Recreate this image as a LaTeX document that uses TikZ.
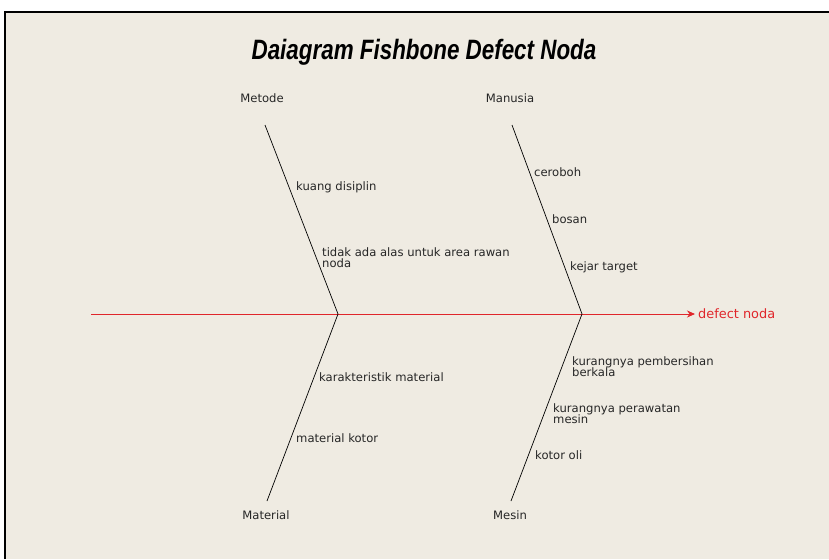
\documentclass[tikz,border=0pt]{standalone}
\usepackage{fontspec}
\setmainfont{Liberation Sans}
\newfontfamily\labfont{DejaVu Sans}
\usetikzlibrary{arrows.meta}
\definecolor{bgbeige}{HTML}{EFEBE2}
\definecolor{spinered}{HTML}{E0262B}
\tikzset{
  lbl/.style={anchor=west, inner sep=0pt, font=\labfont\fontsize{11.6}{13.5}\selectfont, text=black!85, align=left},
  cat/.style={anchor=center, inner sep=0pt, font=\labfont\fontsize{11.6}{13.5}\selectfont, text=black!85},
  bone/.style={draw=black, line width=0.7pt},
  spine/.style={draw=spinered, line width=0.9pt, shorten >=3pt, -{Stealth[length=8pt,width=7pt]}},
}
\begin{document}
\begin{tikzpicture}[x=1pt,y=-1pt]
\useasboundingbox (0,0) rectangle (829,559);
\fill[white] (0,0) rectangle (829,559);
\fill[bgbeige] (5,12) rectangle (829,559);
\draw[black, line width=1.5pt] (5,559) -- (5,12) -- (829,12);

\node[font=\fontsize{22.4}{26}\selectfont\bfseries\itshape, inner sep=0pt] (title) at (424,52) {\scalebox{1}[1.25]{Daiagram Fishbone Defect Noda}};

% category labels
\node[cat] (metode) at (262,98) {Metode};
\node[cat] (manusia) at (510,98) {Manusia};
\node[cat] (material) at (266,515) {Material};
\node[cat] (mesin) at (510,515) {Mesin};

% coordinates
\coordinate (s0) at (91,314);
\coordinate (j1) at (338,314);
\coordinate (j2) at (582,314);
\coordinate (b1) at (265,125);
\coordinate (b2) at (512,125);
\coordinate (b3) at (267,501);
\coordinate (b4) at (511,501);

% effect
\node[anchor=west, inner sep=0pt, font=\labfont\fontsize{12.9}{14}\selectfont, text=spinered] (effect) at (698,314) {defect noda};
\draw[spine] (s0) -- (effect.west);

% bones
\draw[bone] (b1) -- (j1);
\draw[bone] (b2) -- (j2);
\draw[bone] (j1) -- (b3);
\draw[bone] (j2) -- (b4);

% causes
\node[lbl] (c1) at (296,187) {kuang disiplin};
\node[lbl] (c2) at (322,257.5) {tidak ada alas untuk area rawan\\[-2.5pt]noda};
\node[lbl] (c3) at (534,172) {ceroboh};
\node[lbl] (c4) at (552,219) {bosan};
\node[lbl] (c5) at (570,267) {kejar target};
\node[lbl] (c6) at (572,367) {kurangnya pembersihan\\[-2.5pt]berkala};
\node[lbl] (c7) at (553,414) {kurangnya perawatan\\[-2.5pt]mesin};
\node[lbl] (c8) at (535,455) {kotor oli};
\node[lbl] (c9) at (319,377) {karakteristik material};
\node[lbl] (c10) at (296,438) {material kotor};
\end{tikzpicture}
\end{document}
